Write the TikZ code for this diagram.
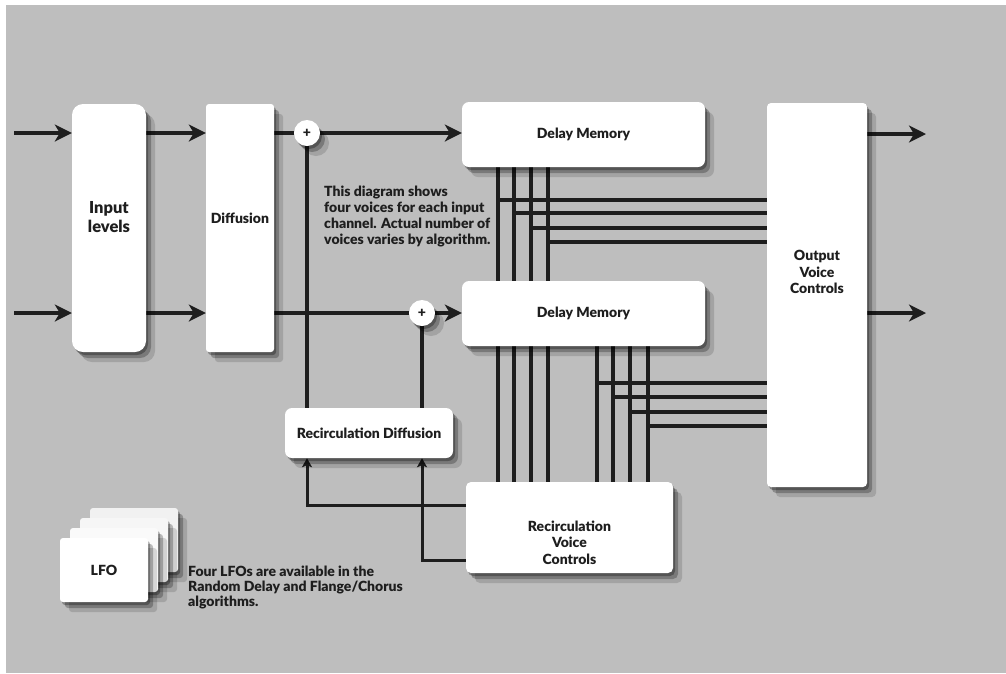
\documentclass[tikz,border=0pt]{standalone}
\usepackage{fontspec}
\setmainfont{Lato}[BoldFont={Lato Black}]
\usetikzlibrary{arrows.meta,shadows}

\definecolor{bgray}{HTML}{BEBEBE}
\definecolor{ink}{HTML}{1E1E1E}

\pgfdeclarelayer{paper}
\pgfdeclarelayer{wires}
\pgfsetlayers{paper,wires,main}

\tikzset{
  softshadow/.style={
    drop shadow={shadow xshift=2pt,shadow yshift=-3pt,opacity=.3,fill=black},
    drop shadow={shadow xshift=5pt,shadow yshift=-6pt,opacity=.25,fill=black},
    drop shadow={shadow xshift=9pt,shadow yshift=-10pt,opacity=.14,fill=black}},
  box/.style={fill=white, rounded corners=7pt, inner sep=0pt, align=center,
    text=ink, font=\bfseries\fontsize{14}{16.5}\selectfont, softshadow},
  lbl/.style={align=center, text=ink, font=\bfseries\fontsize{14}{16.5}\selectfont},
  card/.style={box, rounded corners=3pt, minimum width=88pt, minimum height=64pt},
  summer/.style={circle, fill=white, inner sep=0pt, minimum size=26pt,
    font=\bfseries\fontsize{14}{14}\selectfont, text=ink, softshadow},
  note/.style={align=left, inner sep=0pt, text=ink, anchor=north west},
  wire/.style={line width=3.8pt, draw=ink},
  voice/.style={line width=3.3pt, draw=ink},
  flow/.style={wire, -{Stealth[length=17pt,width=17pt,inset=5pt]}},
  feed/.style={line width=3pt, draw=ink, -{Stealth[length=9pt,width=10pt,inset=2pt]}}
}

\begin{document}
\begin{tikzpicture}[x=1pt,y=-1pt]
\useasboundingbox (0,0) rectangle (1006,673);
\begin{pgfonlayer}{paper}
\fill[white] (0,0) rectangle (1006,673);
\fill[bgray] (6,5) rectangle (1006,673);
\end{pgfonlayer}

% processing blocks
\node[box, rounded corners=11pt, minimum width=74pt, minimum height=248pt,
  label={[lbl, font=\bfseries\fontsize{16.5}{19.5}\selectfont, yshift=11pt]center:Input\\levels}] (inlev) at (109,228) {};
\node[box, rounded corners=3pt, minimum width=68pt, minimum height=248pt,
  label={[lbl, yshift=10pt]center:Diffusion}] (diff) at (240,228) {};
\node[box, minimum width=243pt, minimum height=65pt] (dm1) at (583.5,134.5) {Delay Memory};
\node[box, minimum width=243pt, minimum height=65pt] (dm2) at (583.5,313.5) {Delay Memory};
\node[box, rounded corners=4pt, minimum width=100pt, minimum height=384pt,
  label={[lbl, yshift=23pt]center:Output\\Voice\\Controls}] (outv) at (817,295) {};
\node[box, minimum width=168pt, minimum height=50pt] (rdiff) at (369,433) {Recirculation Diffusion};
\node[box, rounded corners=5pt, minimum width=207pt, minimum height=91pt,
  label={[lbl, yshift=-15pt]center:Recirculation\\Voice\\Controls}] (rvc) at (569.5,527.5) {};

\node[summer] (sum1) at (307,133) {+};
\node[summer] (sum2) at (422,313) {+};

% LFO stack
\foreach \k/\tone in {3/78,2/86,1/93}{
  \node[card, fill=white!\tone!bgray] (lfo\k) at ({104+10*\k},{570-10*\k}) {};
}
\node[card] (lfo) at (104,570) {LFO};

% notes
\node[note, font=\bfseries\fontsize{14}{16}\selectfont] (voicenote) at (324,186)
  {This diagram shows\\four voices for each input\\channel. Actual number of\\voices varies by algorithm.};
\node[note, font=\bfseries\fontsize{14}{15}\selectfont] (lfonote) at (188,566)
  {Four LFOs are available in the\\Random Delay and Flange/Chorus\\algorithms.};

\coordinate (in1) at (14,133);
\coordinate (in2) at (14,313);
\coordinate (out1) at (926,134);
\coordinate (out2) at (926,313);
\coordinate (fb1) at (rvc.west |- 0,505);
\coordinate (fb2) at (rvc.west |- 0,560);

\begin{pgfonlayer}{wires}
\draw[flow] (in1) -- (in1 -| inlev.west);
\draw[flow] (in2) -- (in2 -| inlev.west);
\draw[flow] (inlev.east |- in1) -- (diff.west |- in1);
\draw[flow] (inlev.east |- in2) -- (diff.west |- in2);
\draw[wire] (diff.east |- sum1) -- (sum1);
\draw[wire] (diff.east |- sum2) -- (sum2);
\draw[flow] (sum1) -- (sum1 -| dm1.west);
\draw[flow] (sum2) -- (sum2 -| dm2.west);
\draw[wire] (sum1) -- (sum1 |- rdiff.north);
\draw[wire] (sum2) -- (sum2 |- rdiff.north);
\draw[flow] (outv.east |- out1) -- (out1);
\draw[flow] (outv.east |- out2) -- (out2);
\draw[feed] (fb1) -| (sum1 |- rdiff.south);
\draw[feed] (fb2) -| (sum2 |- rdiff.south);
% voice taps
\foreach \vx/\hy in {498/200,514/213,531/228,548/242}{
  \draw[voice] ({\vx},0 |- dm1.south) -- ({\vx},0 |- rvc.north);
  \draw[voice] ({\vx},{\hy}) -- ({\vx},{\hy} -| outv.west);
}
\foreach \vx/\hy in {597/383,613/397,630/412,648/426}{
  \draw[voice] ({\vx},0 |- dm2.south) -- ({\vx},0 |- rvc.north);
  \draw[voice] ({\vx},{\hy}) -- ({\vx},{\hy} -| outv.west);
}
\end{pgfonlayer}
\end{tikzpicture}
\end{document}
